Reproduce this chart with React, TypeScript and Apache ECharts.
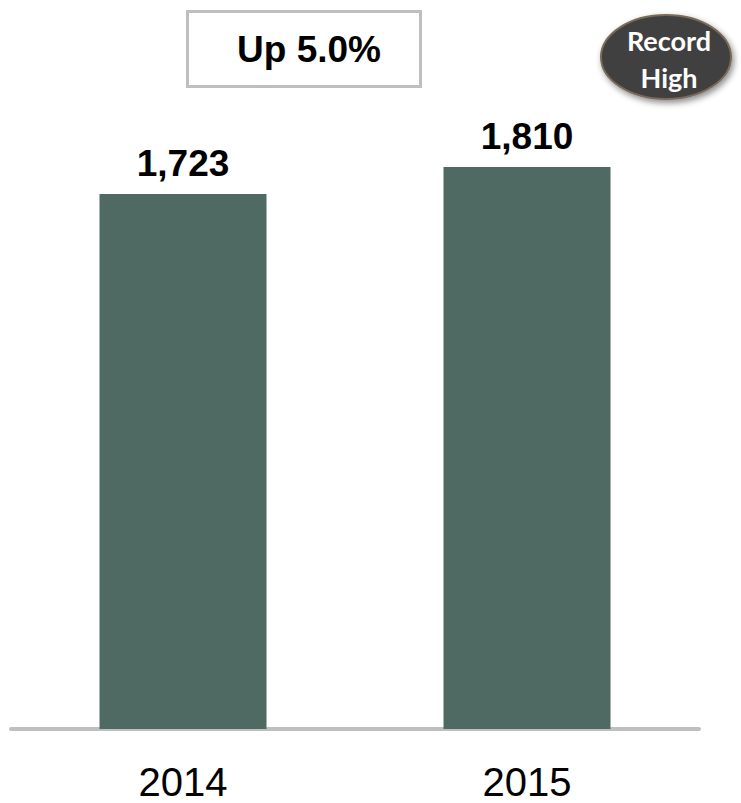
import React, { useEffect, useRef } from "react";
import * as echarts from "echarts";

const categories = ["2014", "2015"];
const values = [1723, 1810];
const changeText = "Up 5.0%";
const badgeLines = ["Record", "High"];

export default function App() {
  const ref = useRef<HTMLDivElement>(null);
  useEffect(() => {
    if (!ref.current) return;
    const chart = echarts.init(ref.current, null, { renderer: "svg" });
    chart.setOption({
      animation: false,
      backgroundColor: "#ffffff",
      grid: { left: 11, right: 42, top: 108, bottom: 74, containLabel: false },
      xAxis: {
        type: "category",
        data: categories,
        axisLine: { show: true, lineStyle: { color: "#bfbfbf", width: 4 } },
        axisTick: { show: false },
        axisLabel: {
          margin: 38,
          lineHeight: 30,
          fontFamily: "Liberation Sans, Arial, sans-serif",
          fontSize: 40,
          color: "#000000",
        },
      },
      yAxis: {
        type: "value",
        min: 0,
        max: 2000,
        show: false,
        splitLine: { show: false },
      },
      series: [
        {
          type: "bar",
          data: values,
          barWidth: 167,
          itemStyle: { color: "#4f6a63" },
          label: {
            show: true,
            position: "top",
            distance: 12,
            fontFamily: "Liberation Sans, Arial, sans-serif",
            fontWeight: "bold",
            fontSize: 37,
            color: "#000000",
            formatter: (p: any) => p.value.toLocaleString("en-US"),
          },
        },
      ],
      graphic: [
        {
          type: "rect",
          shape: { x: 187.5, y: 11.5, width: 233, height: 75 },
          style: { fill: "#ffffff", stroke: "#bfbfbf", lineWidth: 3 },
        },
        {
          type: "text",
          x: 309,
          y: 49,
          style: {
            text: changeText,
            fontFamily: "Liberation Sans, Arial, sans-serif",
            fontWeight: "bold",
            fontSize: 37,
            fill: "#000000",
            align: "center",
            verticalAlign: "middle",
          },
        },
        {
          type: "ellipse",
          shape: { cx: 666, cy: 57, rx: 65, ry: 42 },
          style: {
            fill: "#3f3f3f",
            stroke: "#7a6a58",
            lineWidth: 2,
            shadowBlur: 6,
            shadowOffsetX: 2,
            shadowOffsetY: 3,
            shadowColor: "rgba(0,0,0,0.45)",
          },
        },
        {
          type: "text",
          x: 669,
          y: 40,
          style: {
            text: badgeLines[0],
            fontFamily: "Lato, Open Sans, sans-serif",
            fontWeight: "bold",
            fontSize: 27,
            fill: "#ffffff",
            align: "center",
            verticalAlign: "middle",
          },
        },
        {
          type: "text",
          x: 669,
          y: 77,
          style: {
            text: badgeLines[1],
            fontFamily: "Lato, Open Sans, sans-serif",
            fontWeight: "bold",
            fontSize: 27,
            fill: "#ffffff",
            align: "center",
            verticalAlign: "middle",
          },
        },
      ],
    });
    return () => chart.dispose();
  }, []);
  return (
    <div
      ref={ref}
      style={{ position: "fixed", left: 0, top: 0, width: 741, height: 803 }}
    />
  );
}
